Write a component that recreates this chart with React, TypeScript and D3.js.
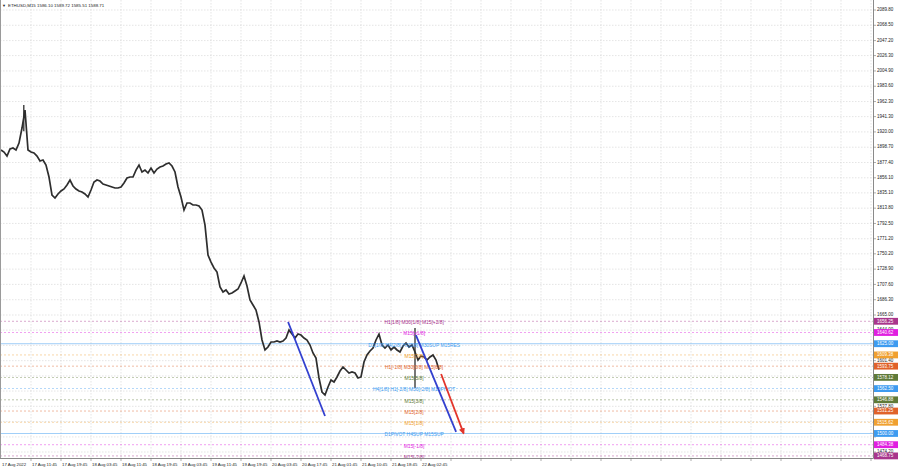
import { useEffect, useRef } from "react";
import * as d3 from "d3";

const W = 900, H = 468;

const titleText = "ETHUSD,M15 1586.10 1589.72 1585.51 1588.71";

const timeLabels = [
  "17 Aug 2022", "17 Aug 11:45", "17 Aug 19:45", "18 Aug 03:45", "18 Aug 11:45",
  "18 Aug 19:45", "19 Aug 03:45", "19 Aug 11:45", "19 Aug 19:45", "20 Aug 03:45",
  "20 Aug 17:45", "21 Aug 01:45", "21 Aug 10:45", "21 Aug 18:45", "22 Aug 02:45",
];

// grid rows of the price scale
const priceTicks = [
  2089.8, 2068.5, 2047.2, 2026.3, 2004.9, 1983.6, 1962.3, 1941.3, 1920.0, 1898.7,
  1877.4, 1856.1, 1835.1, 1813.8, 1792.5, 1771.2, 1750.2, 1728.9, 1707.6, 1686.3,
  1665.0, 1644.0, 1622.7, 1601.4, 1580.1, 1559.1, 1537.8, 1516.5, 1495.2, 1474.2,
];
// the tick labels that stay visible beside the level boxes
const priceLabels = [
  2089.8, 2068.5, 2047.2, 2026.3, 2004.9, 1983.6, 1962.3, 1941.3, 1920.0, 1898.7,
  1877.4, 1856.1, 1835.1, 1813.8, 1792.5, 1771.2, 1750.2, 1728.9, 1707.6, 1686.3,
  1665.0, 1644.0, 1601.4, 1537.8, 1474.2,
];

// closing prices, one sample every 3 bars
const closes = [
  1894.8, 1892.0, 1886.4, 1896.2, 1897.6, 1894.8, 1904.5, 1925.4, 1950.5, 1894.8,
  1892.0, 1890.6, 1886.4, 1879.5, 1880.9, 1873.9, 1857.2, 1832.1, 1827.9, 1833.5,
  1837.7, 1840.5, 1846.1, 1853.0, 1844.7, 1840.5, 1837.7, 1836.3, 1833.5, 1829.3,
  1839.1, 1850.2, 1853.0, 1851.6, 1847.4, 1846.1, 1844.7, 1843.3, 1841.9, 1841.9,
  1843.3, 1848.8, 1855.8, 1857.2, 1857.2, 1866.9, 1873.9, 1864.2, 1866.9, 1862.8,
  1869.7, 1862.8, 1868.3, 1871.1, 1872.5, 1875.3, 1876.7, 1872.5, 1864.2, 1843.3,
  1829.3, 1811.2, 1821.0, 1821.0, 1818.2, 1818.2, 1816.8, 1811.2, 1790.3, 1748.6,
  1738.8, 1730.5, 1724.9, 1704.0, 1697.0, 1699.8, 1694.2, 1695.6, 1698.4, 1701.2,
  1709.6, 1719.3, 1705.4, 1685.9, 1678.9, 1672.0, 1655.3, 1630.2, 1616.3, 1620.4,
  1627.4, 1627.4, 1628.8, 1627.4, 1628.8, 1633.0, 1644.1, 1638.5, 1633.0, 1638.5,
  1637.1, 1633.0, 1630.2, 1623.2, 1612.1, 1605.1, 1577.3, 1557.8, 1553.6, 1564.7,
  1574.5, 1571.7, 1578.7, 1587.0, 1592.6, 1588.4, 1584.2, 1585.6, 1584.2, 1577.3,
  1578.7, 1599.5, 1609.3, 1614.9, 1619.0, 1630.2, 1638.5, 1623.2, 1619.0, 1623.2,
  1616.3, 1620.4, 1616.3, 1613.5, 1621.8, 1626.0, 1620.4, 1623.2, 1613.5, 1602.3,
  1607.9, 1606.5, 1602.3, 1606.5, 1609.3, 1602.3, 1588.7,
];

// tall single bars
const spikeIdx = [7.6, 138];
const spikeHigh = [1957.5, 1646.9];
const spikeLow = [1921.0, 1563.3];

// Murrey levels
const levelPrices = [1656.25, 1640.62, 1625.0, 1609.38, 1593.75, 1578.12, 1562.5, 1546.88, 1531.25, 1515.62, 1500.0, 1484.38, 1468.75];
const levelNames = [
  "H1[1/8] M30[1/8] M15[+2/8]",
  "M15[+1/8]",
  "D1[1/8] H4[2/8] H1[0/8] M30SUP M15RES",
  "M15[7/8]",
  "H1[-1/8] M30[0/8] M15[6/8]",
  "M15[5/8]",
  "H4[1/8] H1[-2/8] M30[-2/8] M15PIVOT",
  "M15[3/8]",
  "M15[2/8]",
  "M15[1/8]",
  "D1PIVOT H4SUP M15SUP",
  "M15[-1/8]",
  "M15[-2/8]",
];
const levelKinds = ["p", "m", "d", "o", "r", "g", "b", "g", "r", "o", "d", "m", "p"];
const kindColor: Record<string, string> = {
  p: "#a8358c", m: "#e01fe0", b: "#3d9bf0", d: "#3d9bf0", o: "#f0a030", r: "#e0622a", g: "#5f7a38",
};

// drawn trend lines: [startIdx, startPrice, endIdx, endPrice]
const blueLines = [
  [95.7, 1655.3, 108.0, 1524.3],
  [138.3, 1637.1, 151.7, 1502.1],
];
const redArrow = [146.7, 1582.8, 154.2, 1500.2];

export default function App() {
  const ref = useRef<SVGSVGElement>(null);

  useEffect(() => {
    document.body.style.margin = "0";
    if (!ref.current) return;
    const svg = d3.select(ref.current);
    svg.selectAll("*").remove();

    const font = "'Liberation Sans', Arial, sans-serif";
    const pr = 873, pb = 458;
    const x = d3.scaleLinear().domain([0, 290]).range([1, 871]);
    const y = d3.scaleLinear().domain([1474.2, 2089.8]).range([452, 10]);

    svg.append("rect").attr("width", W).attr("height", H).attr("fill", "#fff");

    const defs = svg.append("defs");
    defs.append("clipPath").attr("id", "plotclip")
      .append("rect").attr("x", 0).attr("y", 0).attr("width", pr).attr("height", pb);
    defs.append("marker").attr("id", "arrowRed")
      .attr("viewBox", "0 0 10 10").attr("refX", 8).attr("refY", 5)
      .attr("markerWidth", 3.5).attr("markerHeight", 3.5).attr("orient", "auto")
      .append("path").attr("d", "M0,0 L10,5 L0,10 z").attr("fill", "#e2352b");

    const plot = svg.append("g").attr("clip-path", "url(#plotclip)");

    /* grid */
    const grid = plot.append("g")
      .attr("stroke", "#d4d4d4").attr("stroke-width", 0.6).attr("stroke-dasharray", "1.5,1.5");
    grid.selectAll("line.h").data(priceTicks).join("line").attr("class", "h")
      .attr("x1", 0).attr("x2", pr).attr("y1", d => y(d)).attr("y2", d => y(d));
    grid.selectAll("line.v").data(d3.range(10, 291, 10)).join("line").attr("class", "v")
      .attr("y1", 0).attr("y2", pb).attr("x1", d => x(d)).attr("x2", d => x(d));

    /* level lines (daily ones solid) */
    const solid = (i: number) => levelKinds[i] === "d";
    plot.append("g").selectAll("line").data(levelPrices).join("line")
      .attr("x1", 0).attr("x2", pr)
      .attr("y1", d => y(d)).attr("y2", d => y(d))
      .attr("stroke", (_, i) => kindColor[levelKinds[i]])
      .attr("stroke-width", (_, i) => (solid(i) ? 0.9 : 0.7))
      .attr("stroke-dasharray", (_, i) => (solid(i) ? null : "2,2"))
      .attr("opacity", (_, i) => (solid(i) ? 0.55 : 0.6));

    /* price */
    const line = d3.line<number>().x((_, i) => x(i)).y(d => y(d));
    plot.append("path").attr("d", line(closes) ?? "")
      .attr("fill", "none").attr("stroke", "#2e2e2e").attr("stroke-width", 1.7)
      .attr("stroke-linejoin", "miter");
    plot.append("g").selectAll("line").data(spikeIdx).join("line")
      .attr("x1", d => x(d)).attr("x2", d => x(d))
      .attr("y1", (_, i) => y(spikeHigh[i])).attr("y2", (_, i) => y(spikeLow[i]))
      .attr("stroke", "#2e2e2e").attr("stroke-width", 1.3);

    /* level labels */
    plot.append("g").selectAll("text").data(levelNames).join("text")
      .attr("x", x(137.7)).attr("y", (_, i) => y(levelPrices[i]) + 1.6)
      .attr("text-anchor", "middle").attr("dominant-baseline", "middle")
      .attr("font-family", font).attr("font-size", 4.9)
      .attr("fill", (_, i) => kindColor[levelKinds[i]])
      .text(d => d);

    /* trend lines */
    plot.append("g").selectAll("line").data(blueLines).join("line")
      .attr("x1", d => x(d[0])).attr("y1", d => y(d[1]))
      .attr("x2", d => x(d[2])).attr("y2", d => y(d[3]))
      .attr("stroke", "#3340cf").attr("stroke-width", 1.8);
    plot.append("line")
      .attr("x1", x(redArrow[0])).attr("y1", y(redArrow[1]))
      .attr("x2", x(redArrow[2])).attr("y2", y(redArrow[3]))
      .attr("stroke", "#e2352b").attr("stroke-width", 1.8)
      .attr("marker-end", "url(#arrowRed)");

    /* frame */
    svg.append("line").attr("x1", 0.5).attr("x2", 0.5).attr("y1", 0).attr("y2", pb).attr("stroke", "#9a9a9a").attr("stroke-width", 1);
    svg.append("line").attr("x1", pr + 0.5).attr("x2", pr + 0.5).attr("y1", 0).attr("y2", pb + 0.5).attr("stroke", "#8a8a8a").attr("stroke-width", 1);
    svg.append("line").attr("x1", 0).attr("x2", pr + 0.5).attr("y1", pb + 0.5).attr("y2", pb + 0.5).attr("stroke", "#8a8a8a").attr("stroke-width", 1);

    /* right axis */
    const ra = svg.append("g");
    ra.selectAll("line").data(priceTicks).join("line")
      .attr("x1", pr).attr("x2", pr + 3).attr("y1", d => y(d)).attr("y2", d => y(d))
      .attr("stroke", "#777").attr("stroke-width", 0.6);
    ra.selectAll("text").data(priceLabels).join("text")
      .attr("x", 877).attr("y", d => y(d)).attr("dominant-baseline", "middle")
      .attr("font-family", font).attr("font-size", 4.5).attr("fill", "#222")
      .text(d => d.toFixed(2));

    const boxes = svg.append("g").selectAll("g").data(levelPrices).join("g")
      .attr("transform", d => `translate(874,${y(d)})`);
    boxes.append("rect").attr("x", 0).attr("y", -3.4).attr("width", 24).attr("height", 6.8)
      .attr("fill", (_, i) => kindColor[levelKinds[i]]);
    boxes.append("text").attr("x", 3).attr("y", 0.2).attr("dominant-baseline", "middle")
      .attr("font-family", font).attr("font-size", 4.5).attr("fill", "#fff")
      .text(d => d.toFixed(2));

    /* time axis */
    const ta = svg.append("g");
    ta.selectAll("line").data(d3.range(10, 291, 10)).join("line")
      .attr("x1", d => x(d)).attr("x2", d => x(d)).attr("y1", pb).attr("y2", pb + 3)
      .attr("stroke", "#777").attr("stroke-width", 0.6);
    ta.selectAll("text").data(timeLabels).join("text")
      .attr("x", (_, i) => x(i * 10) + 1).attr("y", 464.5).attr("dominant-baseline", "middle")
      .attr("font-family", font).attr("font-size", 4.3).attr("fill", "#222")
      .text(d => d);

    /* title */
    svg.append("text").attr("x", 2).attr("y", 5.5).attr("dominant-baseline", "middle")
      .attr("font-family", font).attr("font-size", 4).attr("fill", "#222").text("▼");
    svg.append("text").attr("x", 8).attr("y", 5.5).attr("dominant-baseline", "middle")
      .attr("font-family", font).attr("font-size", 4.4).attr("fill", "#222").text(titleText);
  }, []);

  return (
    <svg ref={ref} width={W} height={H}
      style={{ position: "fixed", left: 0, top: 0, display: "block" }} />
  );
}
